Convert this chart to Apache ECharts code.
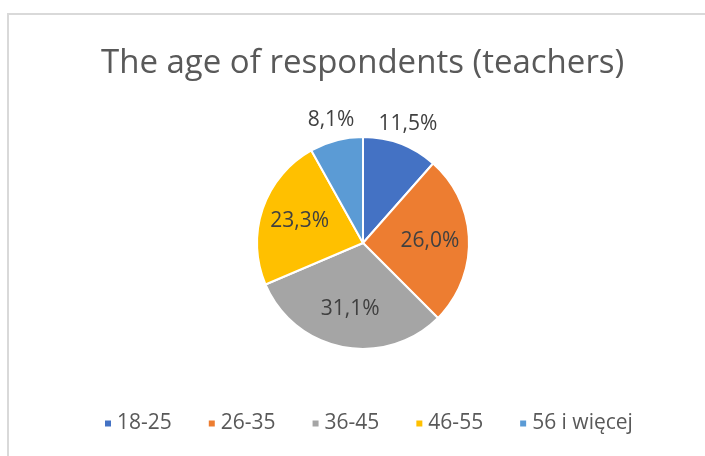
<!DOCTYPE html>
<html>
<head>
<meta charset="utf-8">
<script src="https://cdn.jsdelivr.net/npm/echarts@6/dist/echarts.min.js"></script>
<style>
  html, body { margin: 0; padding: 0; background: #fff; }
  #chart { width: 705px; height: 456px; }
</style>
</head>
<body>
<div id="chart"></div>
<script>
const categories = ["18-25", "26-35", "36-45", "46-55", "56 i więcej"];
const shares = [11.5, 26.0, 31.1, 23.3, 8.1];
const colors = ["#4472C4", "#ED7D31", "#A5A5A5", "#FFC000", "#5B9BD5"];
// slices whose label sits above the pie instead of inside it
const outsideLabels = ["18-25", "56 i więcej"];

const fontFamily = "Open Sans";
const center = [363, 243];

const fmt = p => p.value.toFixed(1).replace(".", ",") + "%";

const labelStyle = {
  fontFamily: fontFamily,
  fontSize: 21,
  color: "#404040",
  formatter: fmt
};

function labelData(outer) {
  return categories.map((name, i) => ({
    name: name,
    value: shares[i],
    label: { show: outsideLabels.includes(name) === outer }
  }));
}

function labelSeries(radius, outer) {
  return {
    type: "pie",
    silent: true,
    animation: false,
    center: center,
    radius: radius,
    startAngle: 90,
    itemStyle: { color: "rgba(0,0,0,0)", borderWidth: 0 },
    label: Object.assign({ position: "inside" }, labelStyle),
    labelLine: { show: false },
    emphasis: { disabled: true },
    data: labelData(outer)
  };
}

const myChart = echarts.init(document.getElementById("chart"));
myChart.setOption({
  animation: false,
  color: colors,
  title: {
    text: "The age of respondents (teachers)",
    left: 96,
    top: 42,
    textStyle: {
      fontFamily: fontFamily,
      fontSize: 33,
      fontWeight: "normal",
      color: "#595959"
    }
  },
  legend: {
    left: 103,
    top: 413,
    padding: 0,
    icon: "rect",
    itemWidth: 8,
    itemHeight: 8,
    itemGap: 35,
    textStyle: { fontFamily: fontFamily, fontSize: 21, color: "#595959" },
    data: categories
  },
  graphic: [{
    type: "rect",
    silent: true,
    shape: { x: 8, y: 14, width: 720, height: 470 },
    style: { fill: "none", stroke: "#d9d9d9", lineWidth: 2 }
  }],
  series: [
    {
      type: "pie",
      center: center,
      radius: 106,
      startAngle: 90,
      itemStyle: { borderColor: "#fff", borderWidth: 2 },
      label: { show: false },
      labelLine: { show: false },
      data: categories.map((name, i) => ({ name: name, value: shares[i] }))
    },
    labelSeries([22, 106], false),
    labelSeries([0, 248], true)
  ]
});
</script>
</body>
</html>
